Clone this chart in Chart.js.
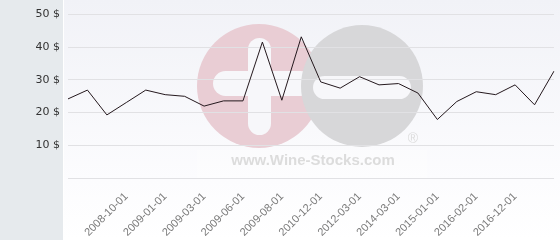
<!DOCTYPE html>
<html>
<head>
<meta charset="utf-8">
<script src="https://cdn.jsdelivr.net/npm/chart.js@4"></script>
<style>
  body { margin: 0; background: #fff; }
  #chart { display: block; }
</style>
</head>
<body>
<canvas id="chart" width="560" height="240"></canvas>
<script>
// one label per point, only every other point in the middle carries a date
const dates = ['', '', '', '2008-10-01', '', '2009-01-01', '', '2009-03-01', '', '2009-06-01', '',
    '2009-08-01', '', '2010-12-01', '', '2012-03-01', '', '2014-03-01', '', '2015-01-01', '',
    '2016-02-01', '', '2016-12-01', '', ''];
const prices = [24.2, 26.9, 19.3, 23.1, 26.9, 25.5, 25.0, 22.0, 23.6, 23.6, 41.6, 23.8, 43.2,
    29.4, 27.5, 31.0, 28.5, 28.9, 26.0, 17.9, 23.4, 26.4, 25.5, 28.5, 22.4, 32.7];
const yTicks = [0, 10, 20, 30, 40, 50];

function roundBar(ctx, x, y, w, h) {
    const r = Math.min(w, h) / 2;
    ctx.beginPath();
    ctx.moveTo(x + r, y);
    ctx.arcTo(x + w, y, x + w, y + h, r);
    ctx.arcTo(x + w, y + h, x, y + h, r);
    ctx.arcTo(x, y + h, x, y, r);
    ctx.arcTo(x, y, x + w, y, r);
    ctx.closePath();
    ctx.fill();
}

const background = {
    id: 'background',
    beforeDraw(chart) {
        const ctx = chart.ctx;
        const w = chart.width, h = chart.height;
        ctx.save();
        // left panel
        ctx.fillStyle = '#e6eaed';
        ctx.fillRect(0, 0, 63, h);
        ctx.fillStyle = '#ffffff';
        ctx.fillRect(63, 0, 1, h);
        // plot background
        const g = ctx.createLinearGradient(0, 0, 0, h);
        g.addColorStop(0, '#f1f2f7');
        g.addColorStop(0.75, '#fcfcfe');
        g.addColorStop(1, '#ffffff');
        ctx.fillStyle = g;
        ctx.fillRect(64, 0, w - 64, h);

        // watermark
        ctx.fillStyle = 'rgba(255,255,255,0.3)';
        ctx.fillRect(197, 150, 230, 28);
        ctx.fillStyle = '#e9cdd4';
        ctx.beginPath();
        ctx.arc(259, 86, 62, 0, Math.PI * 2);
        ctx.fill();
        ctx.fillStyle = '#f7f7fa';
        roundBar(ctx, 213, 71, 100, 25);
        roundBar(ctx, 248, 38, 23, 97);
        ctx.fillStyle = '#d7d7d9';
        ctx.beginPath();
        ctx.arc(362, 86, 61, 0, Math.PI * 2);
        ctx.fill();
        ctx.fillStyle = '#f7f7fa';
        roundBar(ctx, 313, 76, 98, 23);
        ctx.fillStyle = '#dcdcdc';
        ctx.font = 'bold 15px "Liberation Sans", Arial, sans-serif';
        ctx.textAlign = 'center';
        ctx.textBaseline = 'middle';
        ctx.fillText('www.Wine-Stocks.com', 313, 161);
        ctx.font = '14px "Liberation Sans", Arial, sans-serif';
        ctx.fillText('®', 413, 139);
        ctx.restore();
    }
};

new Chart(document.getElementById('chart'), {
    type: 'line',
    data: {
        labels: dates,
        datasets: [{
            data: prices,
            borderColor: '#24181d',
            borderWidth: 1,
            pointRadius: 0,
            tension: 0,
            fill: false
        }]
    },
    options: {
        responsive: false,
        animation: false,
        events: [],
        layout: { padding: { top: 13, right: 6, left: 0, bottom: 0 } },
        plugins: {
            legend: { display: false },
            tooltip: { enabled: false }
        },
        scales: {
            x: {
                offset: false,
                border: { display: false },
                grid: { display: false, drawTicks: false },
                afterFit(scale) {
                    scale.height = 62;
                    scale.paddingLeft = 0;
                    scale.paddingRight = 0;
                },
                ticks: {
                    autoSkip: false,
                    maxRotation: 45,
                    minRotation: 45,
                    padding: 12,
                    color: '#7a7a7a',
                    font: { family: '"Liberation Sans", Arial, sans-serif', size: 11 }
                }
            },
            y: {
                min: yTicks[0],
                max: yTicks[yTicks.length - 1],
                border: { display: false },
                grid: { color: '#e1e1e4', lineWidth: 1, drawTicks: false },
                afterFit(scale) { scale.width = 68; },
                afterBuildTicks(scale) { scale.ticks = yTicks.map(v => ({ value: v })); },
                ticks: {
                    padding: 8,
                    color: '#333333',
                    font: { family: '"DejaVu Sans", sans-serif', size: 11 },
                    callback: v => v === 0 ? '' : v + ' $'
                }
            }
        }
    },
    plugins: [background]
});
</script>
</body>
</html>
